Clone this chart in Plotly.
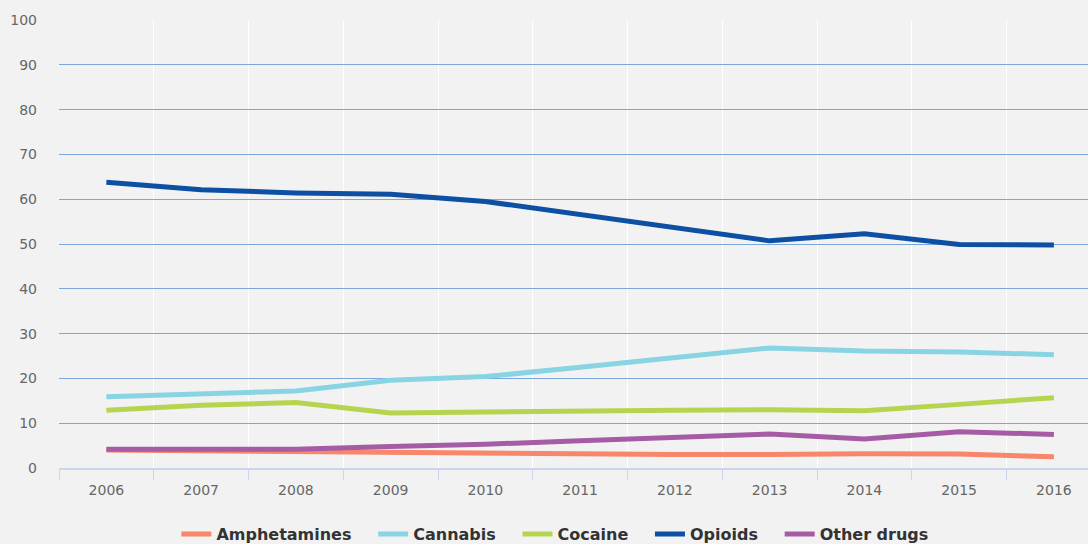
import plotly.graph_objects as go

years = ["2006", "2007", "2008", "2009", "2010", "2011", "2012", "2013", "2014", "2015", "2016"]
amphetamines = [4.0, 3.8, 3.6, 3.4, 3.3, 3.1, 3.0, 3.0, 3.2, 3.1, 2.5]
cannabis = [15.9, 16.6, 17.2, 19.6, 20.4, 22.5, 24.7, 26.8, 26.1, 25.9, 25.3]
cocaine = [12.9, 14.0, 14.6, 12.3, 12.5, 12.8, 12.9, 13.0, 12.8, 14.2, 15.7]
opioids = [63.8, 62.1, 61.4, 61.1, 59.5, 56.6, 53.7, 50.7, 52.3, 49.9, 49.8]
other_drugs = [4.2, 4.3, 4.2, 4.8, 5.3, 6.1, 6.9, 7.6, 6.5, 8.1, 7.5]
y_ticks = [0, 10, 20, 30, 40, 50, 60, 70, 80, 90, 100]

series = [
    ("Amphetamines", amphetamines, "#f7866a"),
    ("Cannabis", cannabis, "#89d4e2"),
    ("Cocaine", cocaine, "#b5d550"),
    ("Opioids", opioids, "#0c4fa3"),
    ("Other drugs", other_drugs, "#a65ca5"),
]

pad = "\u00a0\u00a0\u00a0"
xidx = list(range(len(years)))
fig = go.Figure()
for i, (name, vals, col) in enumerate(series):
    label = name + (pad if i < len(series) - 1 else "")
    fig.add_trace(go.Scatter(x=xidx, y=vals, mode="lines", name=label,
                             line=dict(color=col, width=5)))

bounds = [i - 0.5 for i in range(len(years) + 1)]
fig.update_layout(
    width=1088, height=544,
    margin=dict(l=59, r=0, t=20, b=76),
    paper_bgcolor="#f2f2f2", plot_bgcolor="#f2f2f2",
    font=dict(family="DejaVu Sans", color="#666666", size=14),
    showlegend=True,
    legend=dict(orientation="h", xref="container", yref="container",
                x=0.51, xanchor="center", y=0.018, yanchor="middle",
                font=dict(size=16, color="#333333", family="DejaVu Sans", weight="bold"),
                itemwidth=30, bgcolor="rgba(0,0,0,0)"),
    xaxis=dict(range=[-0.5, 10.36], tickmode="array", tickvals=xidx, ticktext=years,
               showgrid=False, ticks="", zeroline=False,
               showline=True, linecolor="#ccd6eb", linewidth=2,
               tickfont=dict(size=14, color="#666666"), ticklabelstandoff=8,
               minor=dict(tickmode="array", tickvals=bounds, showgrid=True, gridcolor="#ffffff",
                          gridwidth=1, ticks="outside", ticklen=10, tickcolor="#ccd6eb", tickwidth=1)),
    yaxis=dict(range=[0, 100], tickmode="array", tickvals=y_ticks, showgrid=True,
               gridcolor="#7aa7dc", gridwidth=1, zeroline=False, ticks="",
               tickfont=dict(size=14, color="#666666"), ticklabelstandoff=21),
)
fig.write_html("out.html")
